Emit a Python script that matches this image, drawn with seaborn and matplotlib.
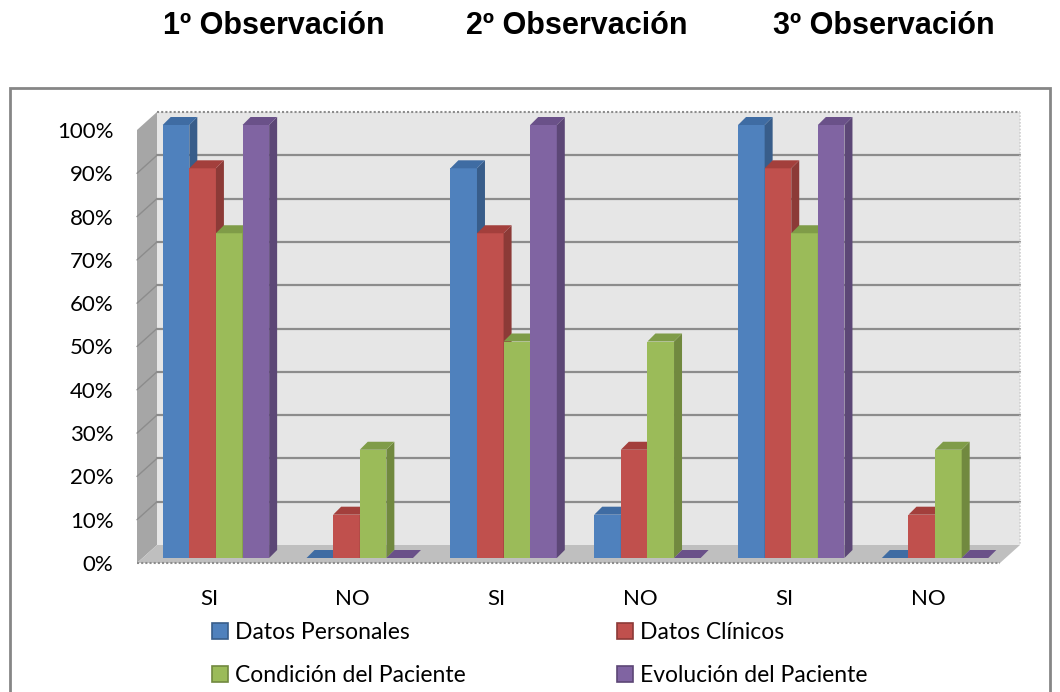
import numpy as np
import pandas as pd
import seaborn as sns
import matplotlib.pyplot as plt
from matplotlib.patches import Polygon, Rectangle
from matplotlib.lines import Line2D
from matplotlib.transforms import ScaledTranslation
from matplotlib.colors import to_rgb

# ---- data -------------------------------------------------------------
grupos = ["1-SI", "1-NO", "2-SI", "2-NO", "3-SI", "3-NO"]
etiquetas = ["SI", "NO", "SI", "NO", "SI", "NO"]
observaciones = ["1º Observación", "2º Observación", "3º Observación"]
series = ["Datos Personales", "Datos Clínicos",
          "Condición del Paciente", "Evolución del Paciente"]
datos_personales = [100, 0, 90, 10, 100, 0]
datos_clinicos = [90, 10, 75, 25, 90, 10]
condicion_paciente = [75, 25, 50, 50, 75, 25]
evolucion_paciente = [100, 0, 100, 0, 100, 0]
yticks = [0, 10, 20, 30, 40, 50, 60, 70, 80, 90, 100]

valores = [datos_personales, datos_clinicos, condicion_paciente, evolucion_paciente]
df = pd.DataFrame({
    "grupo": np.tile(grupos, len(series)),
    "serie": np.repeat(series, len(grupos)),
    "valor": np.concatenate(valores),
})

# ---- colours ------------------------------------------------------------
front = ["#4F81BD", "#C0504D", "#9BBB59", "#8064A2"]
side = ["#385D8A", "#8C3A37", "#71893F", "#5C4776"]
top = ["#3F6CA3", "#A33F3C", "#7F9C48", "#6A5189"]

W, H, DPI = 1060, 692, 100
sns.set_style("white")
plt.rcParams["font.family"] = ["Lato", "DejaVu Sans"]
plt.rcParams["text.color"] = "black"
fig = plt.figure(figsize=(W / DPI, H / DPI), dpi=DPI)

# axes = plane of the bar fronts (pixel coordinates measured from top-left)
x_left, x_right, y_top, y_bot = 144, 1007, 125, 558
ax = fig.add_axes([x_left / W, 1 - y_bot / H, (x_right - x_left) / W, (y_bot - y_top) / H])
ax.set_facecolor("none")

sns.barplot(data=df, x="grupo", y="valor", hue="serie", order=grupos,
            hue_order=series, palette=front, width=0.74, saturation=1,
            linewidth=0, legend=False, ax=ax, zorder=2)
ax.set_xlim(-0.5, 5.5)
ax.set_ylim(0, 100)
for s in ax.spines.values():
    s.set_visible(False)

# pixel -> data conversion for the depth offsets
px_x = (x_right - x_left) / 6.0
px_y = (y_bot - y_top) / 100.0


def off(x, y, dx, dy):
    return (x + dx / px_x, y + dy / px_y)


BACK = (13, 13)     # back wall relative to bar fronts (pixels)
FRONT = (-7, -5)    # front edge of floor relative to bar fronts
DEPTH = (8, 8)      # depth of each bar

# back wall
bw = [off(-0.5, 0, *BACK), off(5.5, 0, *BACK), off(5.5, 100, *BACK), off(-0.5, 100, *BACK)]
ax.add_patch(Polygon(bw, closed=True, facecolor="#E6E6E6", edgecolor="none",
                     zorder=0, clip_on=False))
# left wall
lw = [off(-0.5, 0, *FRONT), off(-0.5, 0, *BACK), off(-0.5, 100, *BACK), off(-0.5, 100, *FRONT)]
ax.add_patch(Polygon(lw, closed=True, facecolor="#A6A6A6", edgecolor="none",
                     zorder=0, clip_on=False))
# floor
fl = [off(-0.5, 0, *FRONT), off(5.5, 0, *FRONT), off(5.5, 0, *BACK), off(-0.5, 0, *BACK)]
ax.add_patch(Polygon(fl, closed=True, facecolor="#BFBFBF", edgecolor="none",
                     zorder=0.4, clip_on=False))

# gridlines on the back wall and the left wall
for v in yticks[1:-1]:
    a, b = off(-0.5, v, *BACK), off(5.5, v, *BACK)
    ax.add_line(Line2D([a[0], b[0]], [a[1], b[1]], color="#8C8C8C", lw=1.6,
                       zorder=0.3, clip_on=False))
    c, d = off(-0.5, v, *FRONT), off(-0.5, v, *BACK)
    ax.add_line(Line2D([c[0], d[0]], [c[1], d[1]], color="#8C8C8C", lw=1.0,
                       zorder=0.3, clip_on=False))
# dotted outline of the walls
a, b = off(-0.5, 100, *BACK), off(5.5, 100, *BACK)
ax.add_line(Line2D([a[0], b[0]], [a[1], b[1]], color="#8C8C8C", lw=1.5, ls=(0, (1, 1)),
                   zorder=0.3, clip_on=False))
b2 = off(5.5, 0, *BACK)
ax.add_line(Line2D([b[0], b2[0]], [b[1], b2[1]], color="#D0D0D0", lw=1.2, ls=(0, (1, 1)),
                   zorder=0.3, clip_on=False))
a, b = off(-0.5, 0, *FRONT), off(5.5, 0, *FRONT)
ax.add_line(Line2D([a[0], b[0]], [a[1], b[1]], color="#8C8C8C", lw=1.5, ls=(0, (1, 1)),
                   zorder=0.45, clip_on=False))

# 3-D faces for every bar, painted left to right
bars = [p for p in ax.patches if isinstance(p, Rectangle) and p.zorder == 2]
bars.sort(key=lambda p: p.get_x())
for i, p in enumerate(bars):
    x0, w, h = p.get_x(), p.get_width(), p.get_height()
    x1 = x0 + w
    rgb = np.array(p.get_facecolor()[:3])
    k = int(np.argmin([np.abs(rgb - np.array(to_rgb(c))).sum() for c in front]))
    z = 2 + 3 * i
    p.set_zorder(z)
    sf = [(x1, 0), (x1, h), off(x1, h, *DEPTH), off(x1, 0, *DEPTH)]
    ax.add_patch(Polygon(sf, closed=True, facecolor=side[k], edgecolor="none",
                         zorder=z + 1, clip_on=False))
    tf = [(x0, h), (x1, h), off(x1, h, *DEPTH), off(x0, h, *DEPTH)]
    ax.add_patch(Polygon(tf, closed=True, facecolor=top[k], edgecolor="none",
                         zorder=z + 2, clip_on=False))

# ticks and labels sit on the front plane
ax.set_yticks(yticks)
ax.set_yticklabels([f"{v}%" for v in yticks])
ax.set_xticks(range(len(grupos)))
ax.set_xticklabels(etiquetas)
ax.set_xlabel("")
ax.set_ylabel("")
ax.tick_params(axis="y", length=0, pad=22, labelsize=16, labelcolor="black")
ax.tick_params(axis="x", length=0, pad=22, labelsize=16, labelcolor="black")
for lab in ax.get_yticklabels():
    lab.set_transform(lab.get_transform() + ScaledTranslation(0, -5 / DPI, fig.dpi_scale_trans))
for lab in ax.get_xticklabels():
    lab.set_transform(lab.get_transform() + ScaledTranslation(-7 / DPI, 0, fig.dpi_scale_trans))

# legend
handles = [Rectangle((0, 0), 1, 1, facecolor=front[k], edgecolor=side[k], lw=1.2)
           for k in range(len(series))]
order = [0, 2, 1, 3]
fig.legend([handles[k] for k in order], [series[k] for k in order], ncol=2,
           loc="upper left", bbox_to_anchor=(212 / W, 1 - 622 / H), frameon=False,
           fontsize=16.5, handlelength=0.7, handleheight=0.7, handletextpad=0.3,
           columnspacing=6.6, labelspacing=0.97, borderaxespad=0, borderpad=0)

# chart frame
fig.patches.append(Rectangle((10 / W, -0.05), 1040 / W, 1.05 - 88 / H,
                             transform=fig.transFigure, facecolor="none",
                             edgecolor="#868686", lw=2, zorder=0))

# observation titles
for cx, t in zip([274, 577, 884], observaciones):
    fig.text(cx / W, 1 - 26 / H, t, ha="center", va="center", color="black",
             fontsize=22, fontweight="bold", family=["Liberation Sans", "DejaVu Sans"])

fig.savefig("out.png", dpi=DPI)
